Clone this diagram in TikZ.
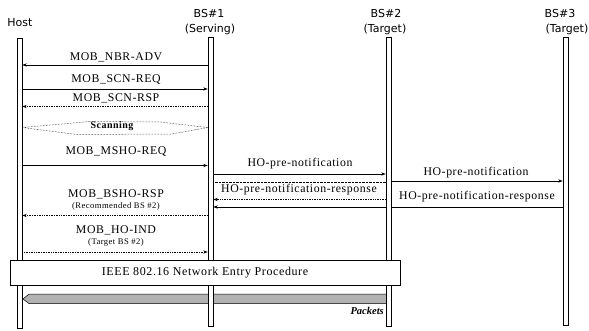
\documentclass[tikz,border=0pt]{standalone}
\usepackage{fontspec}
\setmainfont{Liberation Serif}
\newfontfamily\hdrfont{DejaVu Sans}
\newfontfamily\msgfont[LetterSpace=5]{Liberation Serif}
\usetikzlibrary{arrows.meta,patterns}
\begin{document}
\begin{tikzpicture}[x=1pt,y=-1pt,
  life/.style={draw=black, line width=0.5pt, fill=white, minimum width=5pt, inner sep=0pt, anchor=north},
  hdr/.style={font=\hdrfont\fontsize{11}{12}\selectfont, inner sep=0pt},
  lbl/.style={font=\msgfont\fontsize{11.8}{13}\selectfont, inner sep=0pt},
  sublbl/.style={font=\msgfont\fontsize{8.6}{9}\selectfont, inner sep=0pt},
  msg/.style={-{Stealth[length=4.5pt,width=3.2pt]}, line width=0.7pt},
  dmsg/.style={msg, densely dotted}]
\useasboundingbox (0,0) rectangle (589,330);

% headers
\node[hdr] (hhost) at (20,23) {Host};
\node[hdr] (hbs1a) at (209,13) {BS\#1};
\node[hdr] (hbs1b) at (210,29) {(Serving)};
\node[hdr] (hbs2a) at (386,13) {BS\#2};
\node[hdr] (hbs2b) at (385,29) {(Target)};
\node[hdr] (hbs3a) at (560,13) {BS\#3};
\node[hdr] (hbs3b) at (567,29) {(Target)};

% packets bar (under lifelines)
\coordinate (pk1) at (23,299);
\coordinate (pk2) at (388,299);
\fill[gray!60, draw=black, line width=0.5pt]
  (pk1) -- ++(6,-5) -- (pk2 |- 0,294) -- (pk2 |- 0,303.5) -- (29,303.5) -- cycle;
\node[font=\bfseries\itshape\fontsize{10.5}{12}\selectfont, anchor=east, inner sep=0pt] (pkl) at (384,311) {Packets};

% lifelines
\node[life, minimum height=290pt] (host) at (19.5,38) {};
\node[life, minimum height=289pt] (bs1) at (210.5,37) {};
\node[life, minimum height=289pt] (bs2) at (388.5,37) {};
\node[life, minimum height=288pt] (bs3) at (565.5,37) {};
\draw[line width=1pt] (bs1.north east) -- (bs1.south east);
\draw[line width=1pt] (bs2.north east) -- (bs2.south east);
\draw[line width=1pt] (bs3.north east) -- (bs3.south east);

% Host <-> BS1 messages
\node[lbl] (m1) at (116,57) {MOB\_NBR-ADV};
\draw[msg] (bs1.west |- 0,65) -- (host.east |- 0,65);
\node[lbl] (m2) at (116,80) {MOB\_SCN-REQ};
\draw[msg] (host.east |- 0,89) -- (bs1.west |- 0,89);
\node[lbl] (m3) at (116,98) {MOB\_SCN-RSP};
\draw[dmsg] (bs1.west |- 0,106.5) -- (host.east |- 0,106.5);

% scanning
\node[lbl, font=\msgfont\bfseries\fontsize{10}{12}\selectfont] (scan) at (112,126.5) {Scanning};
\draw[densely dotted, line width=0.5pt] (host.east |- 0,127.5) -- (90,121.5) -- (160,122) -- (bs1.west |- 0,127.5)
  -- (172,134) -- (77,134.5) -- cycle;

\node[lbl] (m4) at (116,152) {MOB\_MSHO-REQ};
\draw[msg] (host.east |- 0,165.5) -- (bs1.west |- 0,165.5);

% BS1 <-> BS2 <-> BS3
\node[lbl] (n1) at (300,164) {HO-pre-notification};
\draw[msg] (bs1.east |- 0,174) -- (bs2.west |- 0,174);
\draw[densely dotted, line width=0.4pt] (bs1.east |- 0,182) -- (bs2.west |- 0,182);
\node[lbl] (n2) at (476,172.5) {HO-pre-notification};
\draw[msg] (bs2.east |- 0,181) -- (bs3.west |- 0,181);
\node[lbl] (n3) at (299,189.5) {HO-pre-notification-response};
\draw[dmsg] (bs2.west |- 0,199.5) -- (bs1.east |- 0,199.5);
\node[lbl] (n4) at (477,196.5) {HO-pre-notification-response};
\draw[line width=0.7pt] (bs3.west |- 0,207) -- (bs2.east |- 0,207);
\draw[msg] (bs2.west |- 0,207) -- (bs1.east |- 0,207);

% BSHO-RSP, HO-IND
\node[lbl] (m5) at (116,194) {MOB\_BSHO-RSP};
\node[sublbl] (m5s) at (116,206.5) {(Recommended BS \#2)};
\draw[dmsg] (bs1.west |- 0,215.5) -- (host.east |- 0,215.5);
\node[lbl] (m6) at (116,230) {MOB\_HO-IND};
\node[sublbl] (m6s) at (116,242.5) {(Target BS \#2)};
\draw[dmsg] (host.east |- 0,252) -- (bs1.west |- 0,252);

% IEEE box
\node[draw, fill=white, line width=0.5pt, minimum width=390pt, minimum height=25pt, inner sep=0pt,
  font=\msgfont\fontsize{12}{13}\selectfont] (ieee) at (205,272.5) {IEEE 802.16 Network Entry Procedure};
\end{tikzpicture}
\end{document}
